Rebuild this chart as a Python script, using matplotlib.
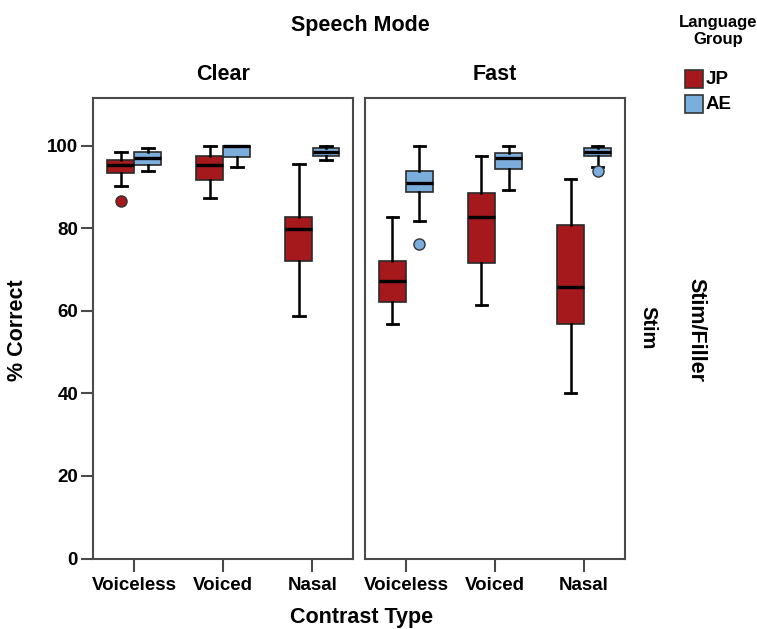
import matplotlib
matplotlib.use("Agg")
import matplotlib.pyplot as plt
from matplotlib.patches import Rectangle

plt.rcParams["font.family"] = ["Liberation Sans", "DejaVu Sans"]
plt.rcParams["font.weight"] = "bold"

categories = ["Voiceless", "Voiced", "Nasal"]
modes = ["Clear", "Fast"]
groups = ["JP", "AE"]
group_colors = {"JP": "#A5191C", "AE": "#7BAEDD"}

# Box-plot summaries per mode, one value per contrast type
jp_whislo = {"Clear": [90.2, 87.3, 58.8], "Fast": [56.9, 61.5, 40.2]}
jp_q1 = {"Clear": [93.3, 91.6, 72.1], "Fast": [62.2, 71.5, 56.9]}
jp_med = {"Clear": [95.2, 95.3, 79.7], "Fast": [67.1, 82.7, 65.7]}
jp_q3 = {"Clear": [96.5, 97.6, 82.6], "Fast": [72.0, 88.4, 80.7]}
jp_whishi = {"Clear": [98.4, 100.0, 95.6], "Fast": [82.7, 97.6, 92.0]}
jp_fliers = {"Clear": [[86.5], [], []], "Fast": [[], [], []]}

ae_whislo = {"Clear": [93.8, 94.8, 96.5], "Fast": [81.8, 89.2, 94.9]}
ae_q1 = {"Clear": [95.3, 97.2, 97.5], "Fast": [88.7, 94.4, 97.5]}
ae_med = {"Clear": [97.0, 100.0, 98.4], "Fast": [91.0, 96.9, 98.4]}
ae_q3 = {"Clear": [98.4, 100.0, 99.4], "Fast": [93.8, 98.2, 99.4]}
ae_whishi = {"Clear": [99.4, 100.0, 100.0], "Fast": [100.0, 100.0, 100.0]}
ae_fliers = {"Clear": [[], [], []], "Fast": [[76.2], [], [93.8]]}

yticks = [0, 20, 40, 60, 80, 100]

stats_by_group = {
    "JP": (jp_whislo, jp_q1, jp_med, jp_q3, jp_whishi, jp_fliers),
    "AE": (ae_whislo, ae_q1, ae_med, ae_q3, ae_whishi, ae_fliers),
}

W, H = 757, 629
fig = plt.figure(figsize=(W / 100, H / 100), dpi=100)


def fx(x):
    return x / W


def fy(y):
    return 1 - y / H


panel_px = {"Clear": (93.3, 353.3), "Fast": (365.0, 625.0)}
top_px, bot_px = 97.7, 558.5

frame_color = "#4a4a4a"
box_w = 0.30
offset = 0.152

for mode in modes:
    x0, x1 = panel_px[mode]
    ax = fig.add_axes([fx(x0), fy(bot_px), fx(x1) - fx(x0), fy(top_px) - fy(bot_px)])
    for g in groups:
        lo, q1, med, q3, hi, fl = stats_by_group[g]
        stats = []
        for ci, cat in enumerate(categories):
            stats.append(dict(whislo=lo[mode][ci], q1=q1[mode][ci], med=med[mode][ci],
                              q3=q3[mode][ci], whishi=hi[mode][ci], fliers=fl[mode][ci],
                              label=cat))
        pos = [ci + (-offset if g == "JP" else offset) for ci in range(len(categories))]
        ax.bxp(stats, positions=pos, widths=box_w, capwidths=0.13, patch_artist=True,
               showfliers=True, manage_ticks=False,
               boxprops=dict(facecolor=group_colors[g], edgecolor="#2a2a2a", linewidth=1.2),
               medianprops=dict(color="black", linewidth=2.4, solid_capstyle="butt"),
               whiskerprops=dict(color="black", linewidth=1.8),
               capprops=dict(color="black", linewidth=2.0),
               flierprops=dict(marker="o", markerfacecolor=group_colors[g],
                               markeredgecolor="#333333", markersize=8, markeredgewidth=1.0))
    ax.set_xlim(-0.46, 2.46)
    ax.set_ylim(0, 111.6)
    ax.set_xticks(range(len(categories)))
    ax.set_xticklabels(categories, fontsize=13.5, fontweight="bold")
    ax.tick_params(axis="x", length=9, width=1.5, color=frame_color, pad=4)
    if mode == "Clear":
        ax.set_yticks(yticks)
        ax.set_yticklabels([str(t) for t in yticks], fontsize=13.5, fontweight="bold")
        ax.tick_params(axis="y", length=9, width=1.5, color=frame_color, pad=2)
    else:
        ax.set_yticks([])
    for s in ax.spines.values():
        s.set_color(frame_color)
        s.set_linewidth(1.5)
    fig.text(fx((x0 + x1) / 2), fy(75), mode, ha="center", va="center",
             fontsize=15.5, fontweight="bold")

fig.text(fx(360), fy(26), "Speech Mode", ha="center", va="center", fontsize=15.5, fontweight="bold")
fig.text(fx(362), fy(618), "Contrast Type", ha="center", va="center", fontsize=15.5, fontweight="bold")
fig.text(fx(18), fy(330), "% Correct", ha="center", va="center", rotation=90,
         fontsize=15.5, fontweight="bold")
fig.text(fx(648), fy(328), "Stim", ha="center", va="center", rotation=-90,
         fontsize=14.5, fontweight="bold")
fig.text(fx(696), fy(330), "Stim/Filler", ha="center", va="center", rotation=-90,
         fontsize=15.5, fontweight="bold")

# Legend
fig.text(fx(718), fy(31), "Language\nGroup", ha="center", va="center", fontsize=12,
         fontweight="bold", linespacing=1.2)
for i, g in enumerate(groups):
    ytop = 70 + i * 25
    fig.add_artist(Rectangle((fx(685), fy(ytop + 18)), fx(18), 18 / H,
                             transform=fig.transFigure, facecolor=group_colors[g],
                             edgecolor="#333333", linewidth=1.2))
    fig.text(fx(706), fy(ytop + 9.5), g, ha="left", va="center", fontsize=13.5, fontweight="bold")

fig.savefig("out.png", dpi=100)
